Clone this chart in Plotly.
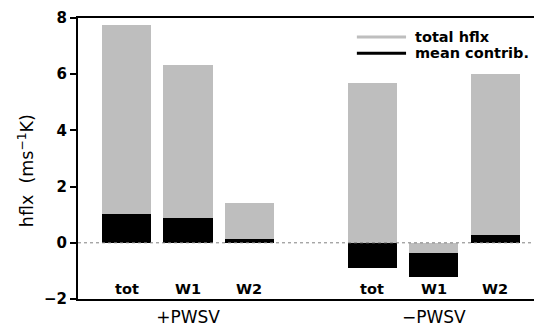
import plotly.graph_objects as go

categories = ["tot", "W1", "W2", "tot", "W1", "W2"]
positions = [0, 1, 2, 4, 5, 6]
total_hflx = [7.75, 6.32, 1.43, 5.68, -0.36, 6.0]
mean_contrib = [1.04, 0.9, 0.13, -0.88, -1.22, 0.29]
group_labels = ["+PWSV", "\u2212PWSV"]
group_positions = [1, 5]
yticks = [-2, 0, 2, 4, 6, 8]

GREY = "#bebebe"
FONT = "DejaVu Sans"

fig = go.Figure()
fig.add_trace(go.Bar(x=positions, y=total_hflx, marker=dict(color=GREY, line=dict(width=0)),
                     width=0.8, showlegend=False))
fig.add_trace(go.Bar(x=positions, y=mean_contrib, marker=dict(color="black", line=dict(width=0)),
                     width=0.8, showlegend=False))
# where the total is the smaller bar of the same sign, it is drawn on top
ov_x = [p for p, t, m in zip(positions, total_hflx, mean_contrib) if t * m > 0 and abs(t) < abs(m)]
ov_y = [t for p, t, m in zip(positions, total_hflx, mean_contrib) if t * m > 0 and abs(t) < abs(m)]
fig.add_trace(go.Bar(x=ov_x, y=ov_y, marker=dict(color=GREY, line=dict(width=0)),
                     width=0.8, showlegend=False))

for p, c in zip(positions, categories):
    fig.add_annotation(x=p, y=-1.64, text=c, showarrow=False, xref="x", yref="y",
                       font=dict(family=FONT, size=14.5, color="black", weight="bold"),
                       yanchor="middle")

# y title
fig.add_annotation(x=0, y=0.455, xref="paper", yref="paper", xshift=-52,
                   text="hflx  (ms<sup>\u22121</sup>K)", textangle=-90, showarrow=False,
                   font=dict(family=FONT, size=17.5, color="black"),
                   xanchor="center", yanchor="middle")

# legend
fig.add_shape(type="line", xref="paper", yref="paper", x0=0.601, x1=0.707, y0=0.932, y1=0.932,
              line=dict(color=GREY, width=3))
fig.add_shape(type="line", xref="paper", yref="paper", x0=0.601, x1=0.707, y0=0.875, y1=0.875,
              line=dict(color="black", width=3))
fig.add_annotation(x=0.722, y=0.932, xref="paper", yref="paper", text="total hflx", showarrow=False,
                   xanchor="left", yanchor="middle", font=dict(family=FONT, size=14.5, color="black", weight="bold"))
fig.add_annotation(x=0.722, y=0.875, xref="paper", yref="paper", text="mean contrib.", showarrow=False,
                   xanchor="left", yanchor="middle", font=dict(family=FONT, size=14.5, color="black", weight="bold"))

# zero dotted line
fig.add_shape(type="line", xref="paper", yref="y", x0=0, x1=1, y0=0, y1=0,
              line=dict(color="#808080", width=1, dash="dot"), layer="above")

fig.update_layout(
    width=534, height=323,
    margin=dict(l=70, r=0, t=10, b=32),
    paper_bgcolor="white", plot_bgcolor="white",
    barmode="overlay", bargap=0,
    xaxis=dict(range=[-0.79, 6.76], tickvals=group_positions, ticktext=group_labels,
               showgrid=False, zeroline=False, showline=True, linecolor="black", linewidth=2,
               mirror=True, ticks="", ticklabelstandoff=2, automargin=False,
               tickfont=dict(family=FONT, size=17, color="black")),
    yaxis=dict(range=[-2, 8], tickvals=yticks, showgrid=False, zeroline=False,
               showline=True, linecolor="black", linewidth=2, ticks="outside", ticklen=6,
               tickwidth=2, tickcolor="black", automargin=False,
               tickfont=dict(family=FONT, size=15, color="black", weight="bold")),
)

fig.write_html("out.html")
